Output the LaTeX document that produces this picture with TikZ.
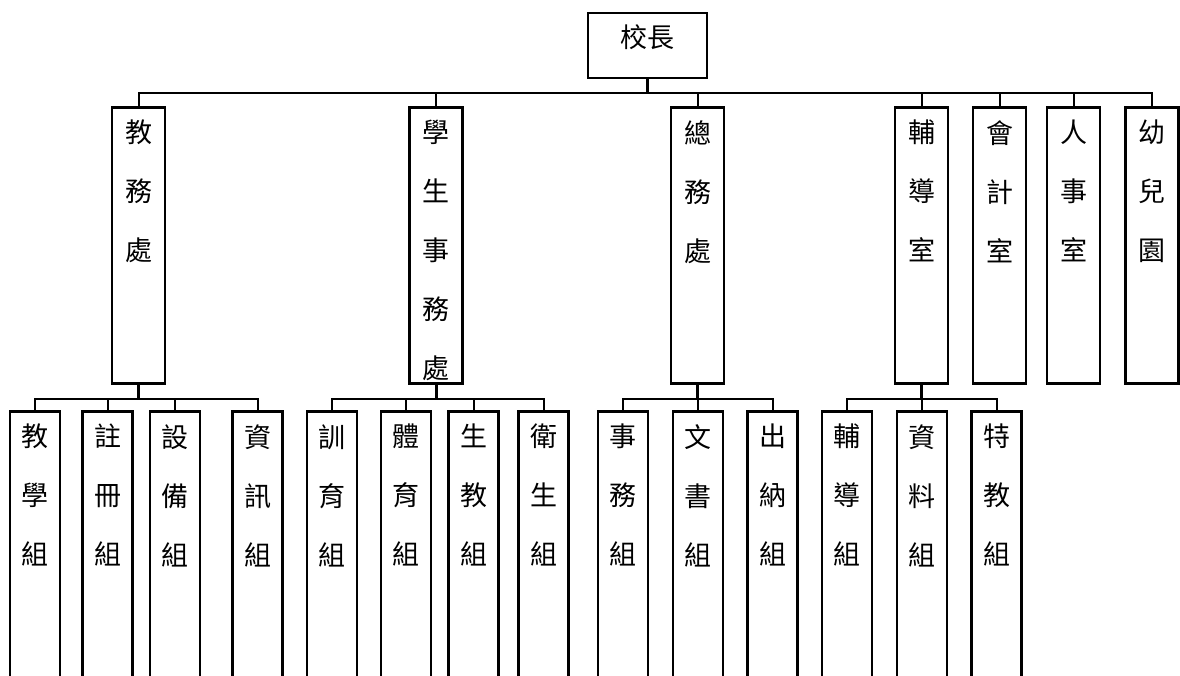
\documentclass[tikz,border=0pt]{standalone}
\usepackage{fontspec}
\newfontfamily\cjk{Noto Sans CJK TC}

% a tall box with one character per line, starting at the top
\newcommand{\vcol}[3]{\parbox[t][#1][t]{#2}{\centering\vspace*{13pt}#3}}

\begin{document}
\begin{tikzpicture}[x=1pt,y=-1pt,font=\cjk\fontsize{27}{59}\selectfont]

  \tikzstyle{office}=[draw,line width=2.5pt,inner sep=0pt,anchor=north]
  \tikzstyle{link}=[line width=2pt]
  \tikzstyle{stem}=[line width=3pt]

  \clip (0,0) rectangle (1180,675);

  \node[office,anchor=center,minimum width=119pt,minimum height=65pt,text depth=18pt] (head) at (647.5,45.5) {校長};

  % second level
  \node[office] (jw) at (138.5,106)  {\vcol{276pt}{53pt}{教\\務\\處}};
  \node[office] (xw) at (436,106)    {\vcol{276pt}{53pt}{學\\生\\事\\務\\處}};
  \node[office] (zw) at (697.5,106)  {\vcol{276pt}{53pt}{總\\務\\處}};
  \node[office] (fd) at (921.5,106)  {\vcol{276pt}{53pt}{輔\\導\\室}};
  \node[office] (kj) at (999.5,106)  {\vcol{276pt}{53pt}{會\\計\\室}};
  \node[office] (rs) at (1073.5,106) {\vcol{276pt}{53pt}{人\\事\\室}};
  \node[office] (ye) at (1152,106)   {\vcol{276pt}{53pt}{幼\\兒\\園}};

  % third level
  \node[office] (jx) at (35,410)    {\vcol{300pt}{50pt}{教\\學\\組}};
  \node[office] (zc) at (107.5,410) {\vcol{300pt}{50pt}{註\\冊\\組}};
  \node[office] (sb) at (175,410)   {\vcol{300pt}{50pt}{設\\備\\組}};
  \node[office] (zx) at (257.5,410) {\vcol{300pt}{50pt}{資\\訊\\組}};

  \node[office] (xy) at (332,410)   {\vcol{300pt}{50pt}{訓\\育\\組}};
  \node[office] (ty) at (406,410)   {\vcol{300pt}{50pt}{體\\育\\組}};
  \node[office] (sj) at (473.5,410) {\vcol{300pt}{50pt}{生\\教\\組}};
  \node[office] (ws) at (543.5,410) {\vcol{300pt}{50pt}{衛\\生\\組}};

  \node[office] (sw) at (623,410)   {\vcol{300pt}{50pt}{事\\務\\組}};
  \node[office] (wx) at (698,410)   {\vcol{300pt}{50pt}{文\\書\\組}};
  \node[office] (cn) at (772.5,410) {\vcol{300pt}{50pt}{出\\納\\組}};

  \node[office] (fz) at (847,410)   {\vcol{300pt}{50pt}{輔\\導\\組}};
  \node[office] (zl) at (922,410)   {\vcol{300pt}{50pt}{資\\料\\組}};
  \node[office] (tj) at (996.5,410) {\vcol{300pt}{50pt}{特\\教\\組}};

  % connectors
  \draw[stem] (head.south) -- ++(0,14) coordinate (bus);
  \foreach \n in {jw,xw,zw,fd,kj,rs,ye}
    \draw[link] (bus) -| (\n.north);

  \draw[stem] (jw.south) -- ++(0,14) coordinate (jwbus);
  \foreach \n in {jx,zc,sb,zx}
    \draw[link] (jwbus) -| (\n.north);

  \draw[stem] (xw.south) -- ++(0,14) coordinate (xwbus);
  \foreach \n in {xy,ty,sj,ws}
    \draw[link] (xwbus) -| (\n.north);

  \draw[stem] (zw.south) -- ++(0,14) coordinate (zwbus);
  \foreach \n in {sw,wx,cn}
    \draw[link] (zwbus) -| (\n.north);

  \draw[stem] (fd.south) -- ++(0,14) coordinate (fdbus);
  \foreach \n in {fz,zl,tj}
    \draw[link] (fdbus) -| (\n.north);

\end{tikzpicture}
\end{document}
